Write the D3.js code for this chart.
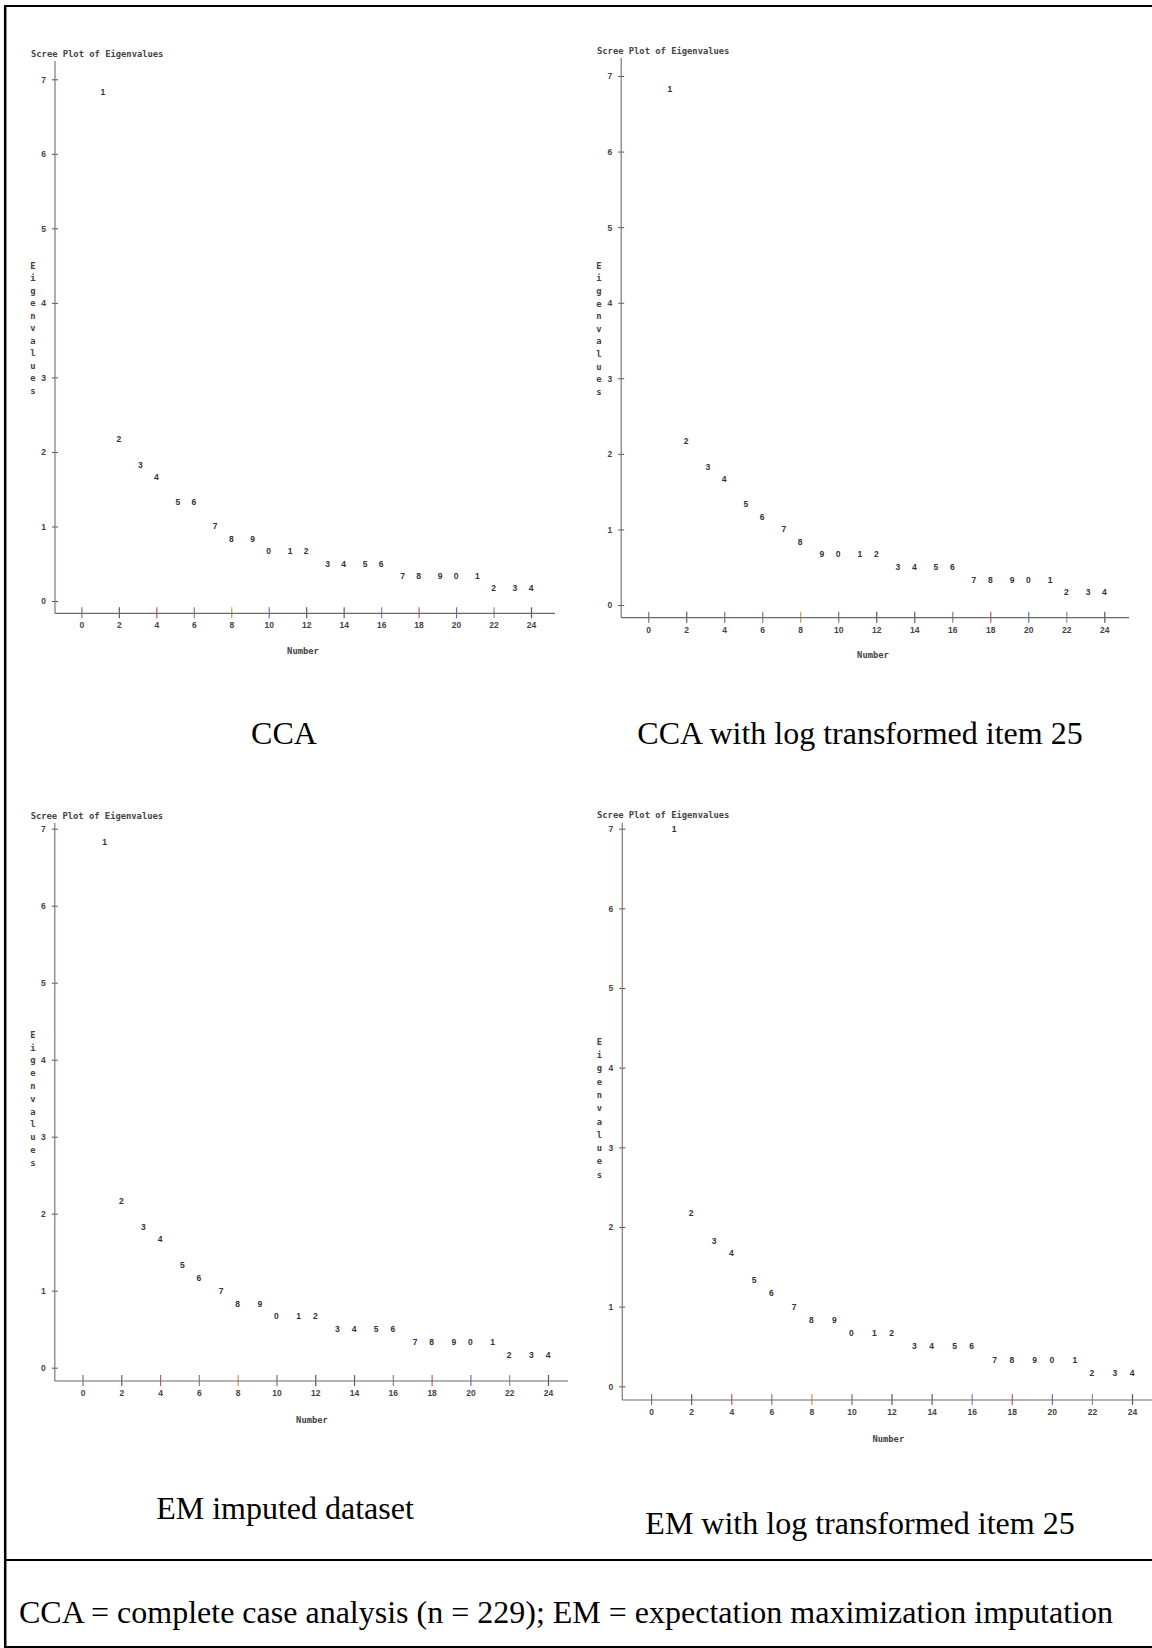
<!DOCTYPE html>
<html lang="en">

<head>
    <meta charset="utf-8">
    <script src='https://d3js.org/d3.v7.min.js'></script>
    <style>
        body { margin: 0; background: #fff; }
    </style>
</head>

<body>

    <script>
        var width = 1152, height = 1648;

        // factor numbers and axis ticks
        var numbers = d3.range(1, 25);
        var xTicks = [0, 2, 4, 6, 8, 10, 12, 14, 16, 18, 20, 22, 24];
        var yTicks = [0, 1, 2, 3, 4, 5, 6, 7];

        // eigenvalues (factors 1..24)
        var ccaValues = [6.83, 2.17, 1.83, 1.67, 1.33, 1.33, 1.0, 0.83, 0.83, 0.67, 0.67, 0.67,
            0.5, 0.5, 0.5, 0.5, 0.33, 0.33, 0.33, 0.33, 0.33, 0.17, 0.17, 0.17];
        var ccaLogValues = [6.83, 2.17, 1.83, 1.67, 1.33, 1.17, 1.0, 0.83, 0.67, 0.67, 0.67, 0.67,
            0.5, 0.5, 0.5, 0.5, 0.33, 0.33, 0.33, 0.33, 0.33, 0.17, 0.17, 0.17];
        var emValues = [6.83, 2.17, 1.83, 1.67, 1.33, 1.17, 1.0, 0.83, 0.83, 0.67, 0.67, 0.67,
            0.5, 0.5, 0.5, 0.5, 0.33, 0.33, 0.33, 0.33, 0.33, 0.17, 0.17, 0.17];
        var emLogValues = [7.0, 2.17, 1.83, 1.67, 1.33, 1.17, 1.0, 0.83, 0.83, 0.67, 0.67, 0.67,
            0.5, 0.5, 0.5, 0.5, 0.33, 0.33, 0.33, 0.33, 0.33, 0.17, 0.17, 0.17];

        var captions = ["CCA", "CCA with log transformed item 25", "EM imputed dataset", "EM with log transformed item 25"];
        var footnote = "CCA = complete case analysis (n = 229); EM = expectation maximization imputation";
        var plotTitle = "Scree Plot of Eigenvalues";
        var yLabel = "Eigenvalues";
        var xLabel = "Number";

        // where each plot sits on the page
        var panels = [
            { values: ccaValues, caption: captions[0], ax: 55, top: 61, y7: 79.3, y0: 601, base: 613.3, x0: 81.4, x24: 531, right: 555,
              titleX: 31, titleY: 54, labX: 33, labY: 265.7, labStep: 12.5, numX: 303, numY: 651, capX: 284, capY: 744 },
            { values: ccaLogValues, caption: captions[1], ax: 621.2, top: 58, y7: 76, y0: 605, base: 617.7, x0: 648.2, x24: 1104.3, right: 1129,
              titleX: 597, titleY: 50.7, labX: 599, labY: 265.7, labStep: 12.6, numX: 873, numY: 655, capX: 860, capY: 743.5 },
            { values: emValues, caption: captions[2], ax: 54.8, top: 823, y7: 828.7, y0: 1367.7, base: 1381, x0: 82.5, x24: 548, right: 568,
              titleX: 30.7, titleY: 815.7, labX: 33, labY: 1034.7, labStep: 12.8, numX: 312, numY: 1419.7, capX: 285, capY: 1518.5 },
            { values: emLogValues, caption: captions[3], ax: 622.3, top: 822.7, y7: 828.7, y0: 1386.3, base: 1400, x0: 651.1, x24: 1132, right: 1152,
              titleX: 597, titleY: 815, labX: 599.3, labY: 1041.7, labStep: 13.3, numX: 888.3, numY: 1439.3, capX: 860, capY: 1533.5 }
        ];

        var tickColors = ["#6a7ea6", "#5a6070", "#a86458", "#7088b0", "#c49a4c", "#5f78a8", "#55585e",
            "#5a5d66", "#6f8cc0", "#b0645a", "#5a78b8", "#8a8fa0", "#55585e"];

        var monoFont = "'DejaVu Sans Mono', monospace";
        var sansFont = "'Liberation Sans', Arial, sans-serif";
        var serifFont = "'Liberation Serif', 'Times New Roman', serif";

        var svg = d3.select('body').append('svg').attr('width', width).attr('height', height);

        panels.forEach(function(p) {
            var x = d3.scaleLinear().domain([0, 24]).range([p.x0, p.x24]);
            var y = d3.scaleLinear().domain([0, 7]).range([p.y0, p.y7]);
            var g = svg.append('g');

            // line-printer plots put symbols on a character grid
            var cell = (x(2) - x(0)) / 7;
            function snapX(n) {
                return p.x0 + Math.ceil((x(n) - p.x0) / cell - 1e-6) * cell;
            }

            // y axis
            var yAxis = g.append('g')
                .attr('transform', 'translate(' + p.ax + ',0)')
                .call(d3.axisLeft(y).tickValues(yTicks).tickFormat(d3.format('d')).tickSize(3).tickPadding(6));
            yAxis.select('.domain').remove();
            yAxis.selectAll('.tick line').attr('x1', 3).attr('stroke', '#555');
            yAxis.selectAll('.tick text')
                .attr('font-family', sansFont).attr('font-size', 8.5).attr('font-weight', 'bold')
                .attr('fill', '#444').attr('dy', '0.35em');
            g.append('line')
                .attr('x1', p.ax).attr('x2', p.ax).attr('y1', p.top).attr('y2', p.base)
                .attr('stroke', '#8a7272').attr('stroke-width', 1.2);

            // x axis
            var xAxis = g.append('g')
                .attr('transform', 'translate(0,' + p.base + ')')
                .call(d3.axisBottom(x).tickValues(xTicks).tickFormat(d3.format('d')).tickSize(5).tickPadding(4));
            xAxis.select('.domain').remove();
            xAxis.selectAll('.tick line').attr('y1', -6)
                .attr('stroke', function(d, i) { return tickColors[i]; }).attr('stroke-width', 1.2);
            xAxis.selectAll('.tick text')
                .attr('font-family', sansFont).attr('font-size', 8.5).attr('font-weight', 'bold')
                .attr('fill', '#444');
            g.append('line')
                .attr('x1', p.ax).attr('x2', p.right).attr('y1', p.base).attr('y2', p.base)
                .attr('stroke', '#6a6a6a').attr('stroke-width', 1.2);

            // plot symbols: last digit of the factor number
            g.selectAll('.pt')
                .data(numbers)
                .join('text')
                .attr('class', 'pt')
                .attr('x', function(d) { return snapX(d); })
                .attr('y', function(d, i) { return y(p.values[i]); })
                .attr('dy', '0.35em')
                .attr('text-anchor', 'middle')
                .attr('font-family', sansFont).attr('font-size', 8.5).attr('font-weight', 'bold')
                .attr('fill', '#333')
                .text(function(d) { return d % 10; });

            // titles
            g.append('text')
                .attr('x', p.titleX).attr('y', p.titleY).attr('dy', '0.35em')
                .attr('font-family', monoFont).attr('font-size', 8.8).attr('font-weight', 'bold')
                .attr('fill', '#444')
                .text(plotTitle);

            g.append('text')
                .attr('x', p.numX).attr('y', p.numY).attr('dy', '0.35em')
                .attr('text-anchor', 'middle')
                .attr('font-family', monoFont).attr('font-size', 8.8).attr('font-weight', 'bold')
                .attr('fill', '#444')
                .text(xLabel);

            g.selectAll('.ylab')
                .data(yLabel.split(''))
                .join('text')
                .attr('class', 'ylab')
                .attr('x', p.labX)
                .attr('y', function(d, i) { return p.labY + i * p.labStep; })
                .attr('dy', '0.35em')
                .attr('text-anchor', 'middle')
                .attr('font-family', monoFont).attr('font-size', 8.8).attr('font-weight', 'bold')
                .attr('fill', '#444')
                .text(function(d) { return d; });

            // caption under the plot
            g.append('text')
                .attr('x', p.capX).attr('y', p.capY)
                .attr('text-anchor', 'middle')
                .attr('font-family', serifFont).attr('font-size', 32)
                .attr('fill', '#000')
                .text(p.caption);
        });

        // table borders
        svg.append('line').attr('x1', 5.2).attr('x2', 5.2).attr('y1', 5).attr('y2', height)
            .attr('stroke', '#000').attr('stroke-width', 2.5);
        svg.append('line').attr('x1', 4).attr('x2', width).attr('y1', 6).attr('y2', 6)
            .attr('stroke', '#000').attr('stroke-width', 2);
        svg.append('line').attr('x1', 4).attr('x2', width).attr('y1', 1560).attr('y2', 1560)
            .attr('stroke', '#000').attr('stroke-width', 2.2);
        svg.append('line').attr('x1', 4).attr('x2', width).attr('y1', 1647).attr('y2', 1647)
            .attr('stroke', '#000').attr('stroke-width', 2);

        svg.append('text')
            .attr('x', 19).attr('y', 1622.7)
            .attr('font-family', serifFont).attr('font-size', 32)
            .attr('fill', '#000')
            .text(footnote);

        console.log('ready..');
    </script>

</body>

</html>
